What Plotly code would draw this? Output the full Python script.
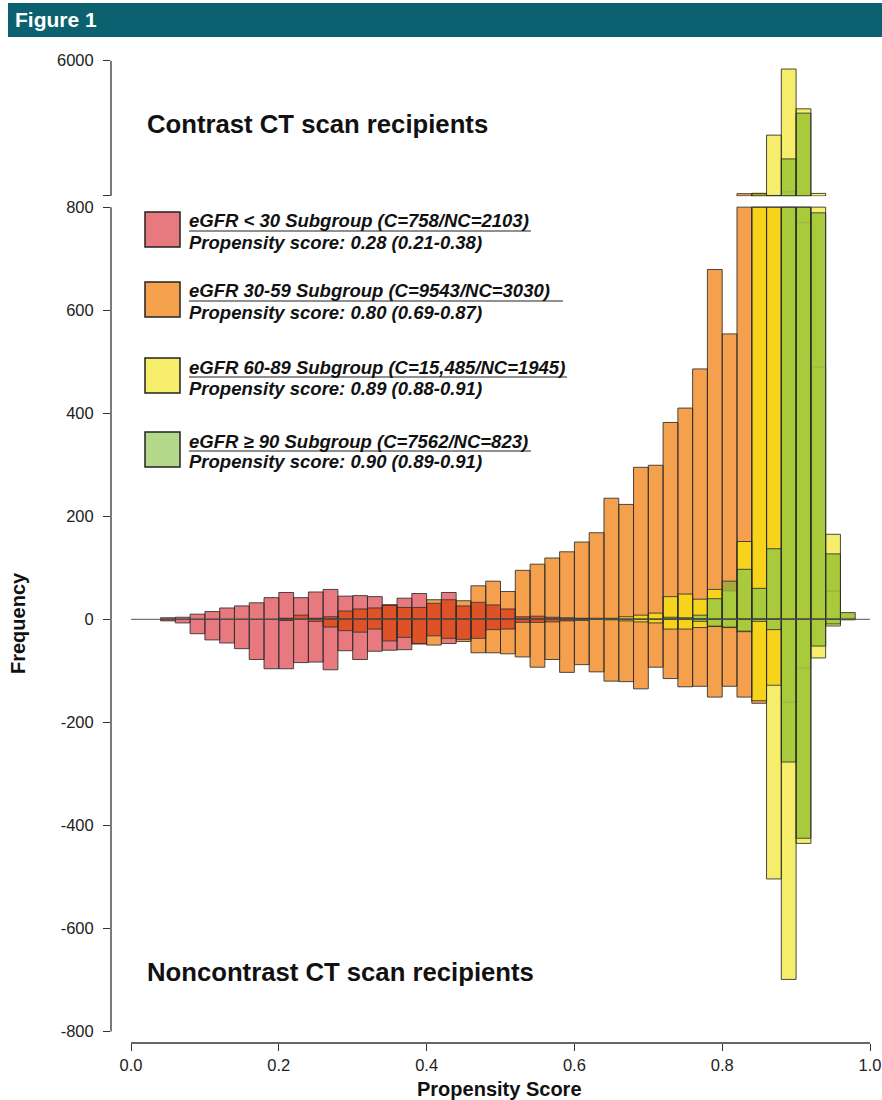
import plotly.graph_objects as go

# ---------------- data ----------------
bin_start = [0.04, 0.06, 0.08, 0.10, 0.12, 0.14, 0.16, 0.18, 0.20, 0.22,
             0.24, 0.26, 0.28, 0.30, 0.32, 0.34, 0.36, 0.38, 0.40, 0.42,
             0.44, 0.46, 0.48, 0.50, 0.52, 0.54, 0.56, 0.58, 0.60, 0.62,
             0.64, 0.66, 0.68, 0.70, 0.72, 0.74, 0.76, 0.78, 0.80, 0.82,
             0.84, 0.86, 0.88, 0.90, 0.92, 0.94, 0.96, 0.98]
bin_width = 0.02

red_contrast = [3, 4, 10, 15, 22, 26, 32, 42, 52, 42,
                53, 58, 45, 46, 44, 28, 41, 50, 31, 52,
                26, 33, 28, 20, 5, 6, 4, 3, 2, 0,
                0, 0, 0, 0, 0, 0, 0, 0, 0, 0,
                0, 0, 0, 0, 0, 0, 0, 0]
red_noncontrast = [3, 7, 28, 40, 46, 57, 78, 96, 96, 84,
                   83, 98, 61, 78, 62, 60, 59, 47, 32, 47,
                   39, 37, 20, 19, 6, 6, 5, 3, 2, 0,
                   0, 0, 0, 0, 0, 0, 0, 0, 0, 0,
                   0, 0, 0, 0, 0, 0, 0, 0]
orange_contrast = [0, 0, 0, 0, 0, 0, 0, 0, 2, 8,
                   2, 5, 16, 20, 22, 27, 23, 23, 38, 38,
                   36, 65, 74, 54, 95, 107, 119, 131, 150, 168,
                   235, 223, 295, 299, 382, 410, 486, 679, 554, 890,
                   880, 820, 965, 770, 490, 55, 0, 0]
orange_noncontrast = [0, 0, 0, 0, 0, 0, 0, 0, 2, 0,
                      4, 15, 22, 25, 19, 42, 35, 48, 50, 37,
                      43, 65, 65, 67, 73, 93, 78, 103, 88, 102,
                      120, 121, 135, 93, 115, 131, 130, 151, 130, 151,
                      163, 128, 161, 95, 0, 0, 0, 0]
yellow_contrast = [0, 0, 0, 0, 0, 0, 0, 0, 0, 0,
                   0, 0, 0, 0, 0, 0, 0, 0, 0, 0,
                   0, 0, 0, 0, 0, 0, 0, 0, 1, 2,
                   2, 5, 8, 12, 44, 49, 39, 58, 55, 151,
                   900, 3140, 5680, 4150, 900, 165, 3, 0]
yellow_noncontrast = [0, 0, 0, 0, 0, 0, 0, 0, 0, 0,
                      0, 0, 0, 0, 0, 0, 0, 0, 0, 0,
                      0, 0, 0, 0, 0, 0, 0, 0, 0, 0,
                      1, 3, 5, 7, 19, 19, 16, 12, 14, 22,
                      158, 504, 699, 435, 75, 13, 0, 0]
green_contrast = [0, 0, 0, 0, 0, 0, 0, 0, 0, 0,
                  0, 0, 0, 0, 0, 0, 0, 0, 0, 0,
                  0, 0, 0, 0, 0, 0, 0, 0, 0, 0,
                  0, 0, 0, 0, 4, 3, 8, 40, 74, 97,
                  60, 137, 2225, 3985, 789, 127, 13, 0]
green_noncontrast = [0, 0, 0, 0, 0, 0, 0, 0, 0, 0,
                     0, 0, 0, 0, 0, 0, 0, 0, 0, 0,
                     0, 0, 0, 0, 0, 0, 0, 0, 0, 0,
                     0, 0, 0, 0, 0, 0, 4, 14, 16, 24,
                     4, 20, 277, 425, 52, 9, 1, 0]

legend_line1 = ["eGFR &lt; 30 Subgroup (C=758/NC=2103)",
                "eGFR 30-59 Subgroup (C=9543/NC=3030)",
                "eGFR 60-89 Subgroup (C=15,485/NC=1945)",
                "eGFR \u2265 90 Subgroup (C=7562/NC=823)"]
legend_line2 = ["Propensity score: 0.28 (0.21-0.38)",
                "Propensity score: 0.80 (0.69-0.87)",
                "Propensity score: 0.89 (0.88-0.91)",
                "Propensity score: 0.90 (0.89-0.91)"]

y_break = 800
lower_ticks = [-800, -600, -400, -200, 0, 200, 400, 600, 800]
upper_ticks = [800, 6000]
x_ticks = [0.0, 0.2, 0.4, 0.6, 0.8, 1.0]

# ---------------- styling ----------------
FONT = "Liberation Sans, Arial, Helvetica, sans-serif"
COL = {
    "pink": "#E8797F", "darkred": "#DF5228", "orange": "#F4A04D",
    "lyellow": "#F6ED6B", "gold": "#F7D31B", "green": "#A9CB3B", "olive": "#A9A83E",
}
LEGEND_COL = ["#E8797F", "#F4A04D", "#F6ED6B", "#B5D98A"]
LINE_DARK = "rgba(45,45,45,0.85)"
LINE_FAINT = "rgba(70,100,20,0.30)"

groups = {
    "red": (red_contrast, red_noncontrast),
    "orange": (orange_contrast, orange_noncontrast),
    "yellow": (yellow_contrast, yellow_noncontrast),
    "green": (green_contrast, green_noncontrast),
}


def seg_color(cover):
    if "green" in cover:
        if "yellow" in cover or "orange" not in cover:
            return "green"
        return "olive"
    if "yellow" in cover:
        return "gold" if "orange" in cover else "lyellow"
    if "red" in cover:
        return "darkred" if "orange" in cover else "pink"
    return "orange"


# pixel geometry helpers (layout only)
L_PX, R_PX, T_PX, B_PX = 111, 872, 60, 1043
X0_PX, X_SCALE = 131, 739


def px_x(p):
    return (p - L_PX) / (R_PX - L_PX)


def px_y(p):
    return (B_PX - p) / (B_PX - T_PX)


x_range = [(L_PX - X0_PX) / X_SCALE, (R_PX - X0_PX) / X_SCALE]
low_zero, low_s = 619.3, 0.5152
low_range = [-806, 806]
low_dom = [px_y(low_zero - low_range[0] * low_s), px_y(low_zero - low_range[1] * low_s)]
up_s = (196 - 60.7) / 5200
up_range = [790, 6010]
up_dom = [px_y(196 + (800 - up_range[0]) * up_s), min(1.0, px_y(60.7 - (up_range[1] - 6000) * up_s))]

# ---------------- build colour segments ----------------
segs = {}
for i, x0 in enumerate(bin_start):
    xc = x0 + bin_width / 2
    for side, sign in ((0, 1), (1, -1)):
        vals = {n: g[side][i] for n, g in groups.items()}
        levels = sorted(set([0] + [v for v in vals.values() if v > 0]))
        for a, b in zip(levels[:-1], levels[1:]):
            cover = {n for n, v in vals.items() if v >= b}
            c = seg_color(cover)
            la, lb = min(a, y_break), min(b, y_break)
            if lb > la:
                d = segs.setdefault((c, "y"), {"x": [], "base": [], "h": []})
                d["x"].append(xc)
                d["base"].append(sign * la)
                d["h"].append(sign * (lb - la))
            if sign > 0 and b > y_break:
                ua = max(a, y_break)
                d = segs.setdefault((c, "y2"), {"x": [], "base": [], "h": []})
                d["x"].append(xc)
                d["base"].append(ua)
                d["h"].append(b - ua)

fig = go.Figure()
for (c, ax), d in segs.items():
    fig.add_trace(go.Bar(x=d["x"], y=d["h"], base=d["base"], width=bin_width,
                         yaxis=ax, marker=dict(color=COL[c], line=dict(width=0)),
                         showlegend=False, hoverinfo="skip"))

# ---------------- outlines per group ----------------
for name in ["orange", "red", "yellow", "green"]:
    pos, neg = groups[name]
    gpos, gneg = groups["green"]
    for ax in ("y", "y2"):
        xs, bases, hs, lc = [], [], [], []
        for i, x0 in enumerate(bin_start):
            xc = x0 + bin_width / 2
            for v, gv, sign in ((pos[i], gpos[i], 1), (neg[i], gneg[i], -1)):
                if v <= 0:
                    continue
                hidden = name != "green" and gv > v
                if ax == "y":
                    xs.append(xc); bases.append(0); hs.append(sign * min(v, y_break))
                elif sign > 0 and v > y_break:
                    xs.append(xc); bases.append(y_break); hs.append(v - y_break)
                else:
                    continue
                lc.append(LINE_FAINT if hidden else LINE_DARK)
        if xs:
            fig.add_trace(go.Bar(x=xs, y=hs, base=bases, width=bin_width, yaxis=ax,
                                 marker=dict(color="rgba(0,0,0,0)", line=dict(color=lc, width=1)),
                                 showlegend=False, hoverinfo="skip"))

# ---------------- shapes ----------------
shapes = []
shapes.append(dict(type="line", xref="x", yref="y", x0=0, x1=1, y0=0, y1=0,
                   line=dict(color="#555555", width=1), layer="above"))
shapes.append(dict(type="line", xref="paper", yref="y", x0=0, x1=0,
                   y0=lower_ticks[0], y1=lower_ticks[-1], line=dict(color="#333", width=1.3)))
shapes.append(dict(type="line", xref="paper", yref="y2", x0=0, x1=0,
                   y0=upper_ticks[0], y1=upper_ticks[-1], line=dict(color="#333", width=1.3)))
shapes.append(dict(type="line", xref="x", yref="paper", x0=x_ticks[0], x1=x_ticks[-1],
                   y0=0, y1=0, line=dict(color="#333", width=1.3)))
shapes.append(dict(type="rect", xref="paper", yref="paper", x0=px_x(8), x1=px_x(882),
                   y0=px_y(37), y1=px_y(3), fillcolor="#0B6170", line=dict(width=0), layer="below"))

annotations = []
annotations.append(dict(text="<b>Figure 1</b>", xref="paper", yref="paper", x=px_x(13), y=px_y(20),
                        xanchor="left", yanchor="middle", showarrow=False,
                        font=dict(family=FONT, size=21, color="white")))
annotations.append(dict(text="<b>Contrast CT scan recipients</b>", xref="paper", yref="paper",
                        x=px_x(145), y=px_y(124), xanchor="left", yanchor="middle", showarrow=False,
                        font=dict(family=FONT, size=25.7, color="#111")))
annotations.append(dict(text="<b>Noncontrast CT scan recipients</b>", xref="paper", yref="paper",
                        x=px_x(145), y=px_y(972), xanchor="left", yanchor="middle", showarrow=False,
                        font=dict(family=FONT, size=25.7, color="#111")))
annotations.append(dict(text="<b>Frequency</b>", xref="paper", yref="paper", x=px_x(18), y=px_y(623),
                        xanchor="center", yanchor="middle", textangle=-90, showarrow=False,
                        font=dict(family=FONT, size=20, color="#111")))
annotations.append(dict(text="<b>Propensity Score</b>", xref="paper", yref="paper", x=px_x(500),
                        y=px_y(1089), xanchor="center", yanchor="middle", showarrow=False,
                        font=dict(family=FONT, size=20, color="#111")))

box_tops = [212, 282, 358, 432]
sep_ends = [531, 563, 567, 531]
for k in range(4):
    t = box_tops[k]
    shapes.append(dict(type="rect", xref="paper", yref="paper", x0=px_x(145), x1=px_x(180),
                       y0=px_y(t + 35), y1=px_y(t), fillcolor=LEGEND_COL[k],
                       line=dict(color="#222", width=1.5)))
    shapes.append(dict(type="line", xref="paper", yref="paper", x0=px_x(189), x1=px_x(sep_ends[k]),
                       y0=px_y(t + 19), y1=px_y(t + 19), line=dict(color="#222", width=1.2)))
    annotations.append(dict(text="<b><i>" + legend_line1[k] + "</i></b>", xref="paper", yref="paper",
                            x=px_x(187), y=px_y(t + 9), xanchor="left", yanchor="middle",
                            showarrow=False, font=dict(family=FONT, size=18.5, color="#111")))
    annotations.append(dict(text="<b><i>" + legend_line2[k] + "</i></b>", xref="paper", yref="paper",
                            x=px_x(187), y=px_y(t + 30), xanchor="left", yanchor="middle",
                            showarrow=False, font=dict(family=FONT, size=18.5, color="#111")))

tickfont = dict(family=FONT, size=16.5, color="#222")
fig.update_layout(
    width=882, height=1100, autosize=False,
    margin=dict(l=L_PX, r=882 - R_PX, t=T_PX, b=1100 - B_PX, autoexpand=False),
    paper_bgcolor="white", plot_bgcolor="white",
    barmode="overlay", showlegend=False,
    xaxis=dict(range=x_range, domain=[0, 1], anchor="free", position=0, automargin=False,
               showline=False, showgrid=False, zeroline=False,
               tickvals=x_ticks, ticktext=["%.1f" % v for v in x_ticks],
               ticks="outside", ticklen=7, tickwidth=1.3, tickcolor="#333", tickfont=tickfont),
    yaxis=dict(range=low_range, domain=low_dom, anchor="x", automargin=False,
               showline=False, showgrid=False,
               zeroline=False, tickvals=lower_ticks, ticktext=[str(v) for v in lower_ticks],
               ticks="outside", ticklen=7, tickwidth=1.3, tickcolor="#333", tickfont=tickfont,
               ticklabelstandoff=6),
    yaxis2=dict(range=up_range, domain=up_dom, anchor="x", automargin=False,
                showline=False, showgrid=False,
                zeroline=False, tickvals=upper_ticks, ticktext=["", "6000"],
                ticks="outside", ticklen=7, tickwidth=1.3, tickcolor="#333", tickfont=tickfont,
                ticklabelstandoff=6),
    shapes=shapes, annotations=annotations,
)

fig.write_html(
    "out.html",
    config={"displayModeBar": False, "responsive": False},
    post_script=("document.documentElement.style.margin='0';document.documentElement.style.overflow='hidden';"
                 "document.body.style.margin='0';document.body.style.padding='0';"
                 "document.body.style.overflow='hidden';"),
)
